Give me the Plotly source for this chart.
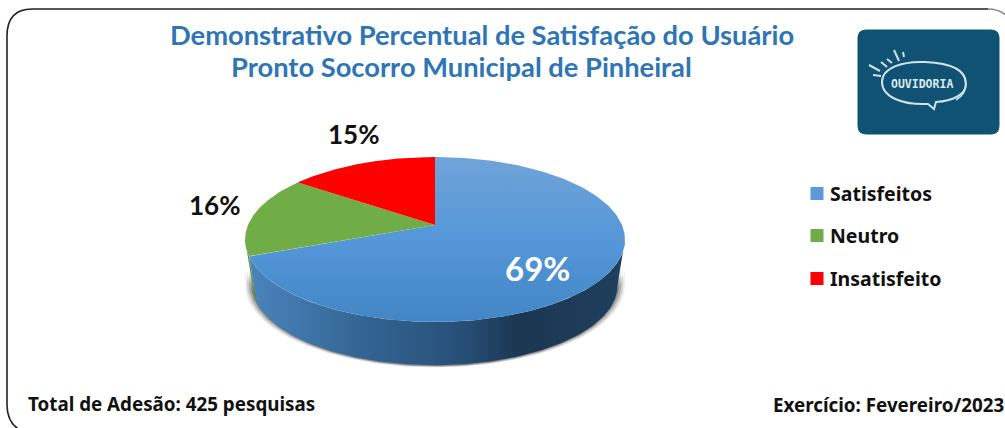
import numpy as np
import plotly.graph_objects as go

categories = ["Satisfeitos", "Neutro", "Insatisfeito"]
values = [69, 16, 15]
colors = ["#5b9bd5", "#70ad47", "#ff0000"]
title_lines = ["Demonstrativo Percentual de Satisfação do Usuário",
               "Pronto Socorro Municipal de Pinheiral"]
footer_left = "Total de Adesão: 425 pesquisas"
footer_right = "Exercício: Fevereiro/2023"

# perspective pie geometry (axes are in page units)
CX, CY, A, B, K = 435, 225, 187, 79.9, 0.1757
MIDY, LOWER_SCALE, LOWER_SHIFT = 239.5, 0.96, 46.5
EDGE = np.degrees(np.arccos(-K))


def project(deg):
    t = np.radians(deg)
    u, v = np.sin(t), np.cos(t)
    den = 1 + K * v
    return CX + A * u / den, CY - B * v / den


def arc(a, b, n=160):
    return project(np.linspace(a, b, n))


def lower(x, y):
    return CX + (x - CX) * LOWER_SCALE, MIDY + LOWER_SHIFT + (y - MIDY) * LOWER_SCALE


def wall(x, y):
    lx, ly = lower(x, y)
    return np.r_[x, lx[::-1]], np.r_[y, ly[::-1]]


total = sum(values)
ends = np.cumsum(values) / total * 360
starts = np.concatenate([[0], ends[:-1]])

fig = go.Figure()

# soft shadow below the wall
wx, wy = arc(EDGE, 360 - EDGE)
for scale, off, op in [(1.0, 45.5, .10), (.99, 45, .16), (.98, 44.5, .25), (.97, 44, .35)]:
    sx = CX + (wx - CX) * scale
    fig.add_trace(go.Scatter(x=np.r_[sx, sx[::-1]], y=np.r_[wy + 28, (wy + off)[::-1]],
                             mode="lines", line_width=0, fill="toself",
                             fillcolor=f"rgba(60,60,60,{op})", hoverinfo="skip", showlegend=False))

# side walls
px, py = wall(*arc(EDGE, ends[0]))
fig.add_trace(go.Scatter(x=px, y=py, mode="lines", line_width=0, fill="toself",
                         fillgradient=dict(type="horizontal", colorscale=[
                             [0, "#4a84bd"], [.3, "#336593"], [.55, "#28517a"],
                             [.72, "#1b3752"], [1, "#1f3f5e"]]),
                         hoverinfo="skip", showlegend=False))
px, py = wall(*arc(ends[0], 360 - EDGE, 30))
fig.add_trace(go.Scatter(x=px, y=py, mode="lines", line_width=0, fill="toself", fillcolor="#5c8f3c",
                         hoverinfo="skip", showlegend=False))

# top slices
for name, s, e, c in zip(categories, starts, ends, colors):
    ax, ay = arc(s, e, 240)
    kw = dict(fillcolor=c)
    if name == categories[0]:
        kw = dict(fillgradient=dict(type="vertical", colorscale=[
            [0, "#4286c6"], [.5, "#5597d8"], [1, "#70a4d9"]]))
    fig.add_trace(go.Scatter(x=np.r_[CX, ax, CX], y=np.r_[CY, ay, CY], mode="lines", line_width=0,
                             fill="toself", name=name, showlegend=False, **kw))

# legend squares
legend_y = [193.5, 235.5, 278.5]
fig.add_trace(go.Scatter(x=[817] * 3, y=legend_y, mode="markers",
                         marker=dict(symbol="square", size=13, color=colors),
                         hoverinfo="skip", showlegend=False))

annotations = []


def note(x, y, text, size, color="#111", family="Lato", anchor="center", weight=700):
    annotations.append(dict(x=x, y=y, text=text, showarrow=False, xanchor=anchor, yanchor="middle",
                            font=dict(family=family, size=size, color=color, weight=weight)))


for cat, ly in zip(categories, legend_y):
    note(828, ly, cat, 19.5, family="Noto Sans", anchor="left")
note(482, 34, title_lines[0], 27.3, "#2e75b6")
note(461, 66, title_lines[1], 27.3, "#2e75b6")
note(537, 268, f"{values[0]}%", 33, "white")
note(214, 205, f"{values[1]}%", 26)
note(353, 134, f"{values[2]}%", 26)
note(26, 404, footer_left, 18.8, family="Noto Sans", anchor="left")
note(771, 405, footer_right, 18.8, family="Noto Sans", anchor="left")
note(922, 84, "OUVIDORIA", 11.5, "#dcebee", family="DejaVu Sans Mono", weight=700)

ink = dict(color="#cfe2e8", width=2)
shapes = [
    dict(type="path", path="M 988 9 L 32 9 Q 7 9 7 36 L 7 405 Q 7 425 24 432",
         line=dict(color="#222", width=1.6)),
    dict(type="path", path="M 988 9 Q 998 9 1006 15", line=dict(color="#888", width=1.6)),
    dict(type="path", path="M 866 30 L 991 30 Q 999 30 999 38 L 999 126 Q 999 134 991 134 L 866 134 "
         "Q 858 134 858 126 L 858 38 Q 858 30 866 30 Z",
         fillcolor="#0f5273", line=dict(color="#0f5273", width=1)),
    dict(type="path", path="M 882 82 C 882 68 902 61 925 62 C 950 63 966 70 966 84 C 966 95 952 101 936 102 "
         "L 934 109 L 928 104 C 902 105 882 97 882 82 Z", line=ink),
    dict(type="path", path="M 955 68 C 968 74 970 92 956 100", line=dict(color="#cfe2e8", width=1.5)),
    dict(type="line", x0=869, y0=65, x1=880, y1=71, line=ink),
    dict(type="line", x0=873, y0=75, x1=881, y1=76, line=ink),
    dict(type="line", x0=881, y0=62, x1=887, y1=67, line=ink),
    dict(type="line", x0=887, y0=59, x1=892, y1=63, line=ink),
    dict(type="line", x0=894, y0=50, x1=899, y1=61, line=ink),
    dict(type="line", x0=903, y0=52, x1=904, y1=57, line=ink),
]

fig.update_layout(width=1005, height=428, margin=dict(l=0, r=0, t=0, b=0), autosize=False,
                  paper_bgcolor="white", plot_bgcolor="white", showlegend=False,
                  xaxis=dict(range=[0, 1005], visible=False, fixedrange=True),
                  yaxis=dict(range=[428, 0], visible=False, fixedrange=True),
                  annotations=annotations, shapes=shapes)

fig.write_html("out.html", config={"displayModeBar": False},
               post_script="document.body.style.margin='0';document.body.style.overflow='hidden';")
